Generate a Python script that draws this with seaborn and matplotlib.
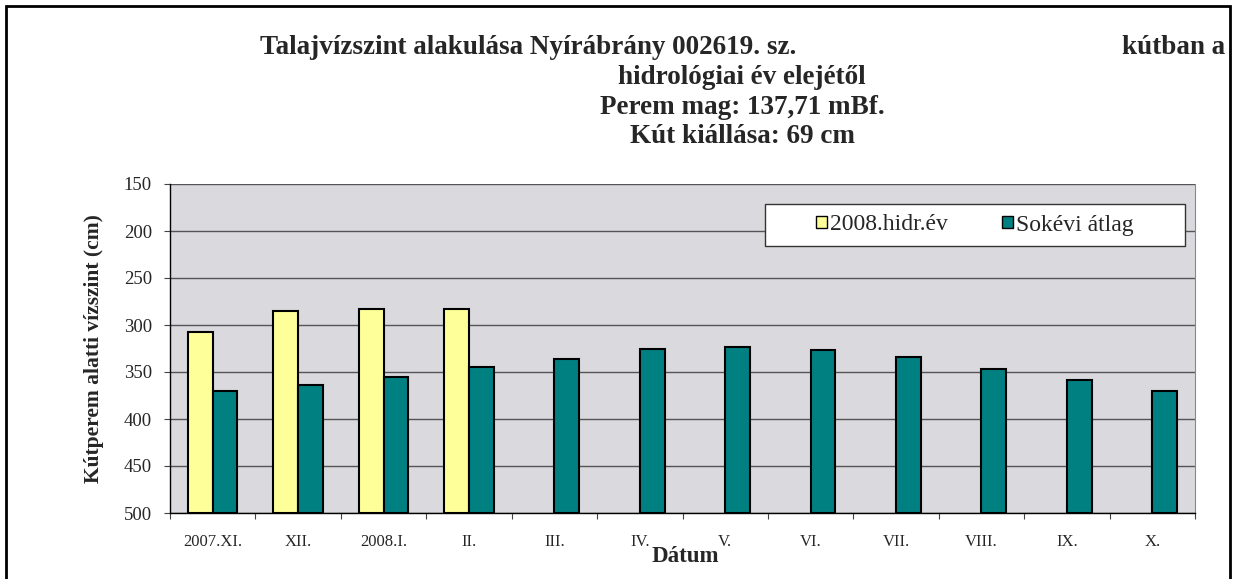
import pandas as pd
import matplotlib.pyplot as plt
import seaborn as sns
from matplotlib.patches import Patch, Rectangle

# adatok (cm a kútperem alatt)
honapok = ['2007.XI.', 'XII.', '2008.I.', 'II.', 'III.', 'IV.', 'V.', 'VI.', 'VII.', 'VIII.', 'IX.', 'X.']
hidr_2008 = [307, 285, 283, 283, None, None, None, None, None, None, None, None]
sokevi_atlag = [370, 364, 355, 345, 336, 326, 323, 327, 334, 347, 359, 370]
sorozatok = ['2008.hidr.év', 'Sokévi átlag']
szinek = ['#FFFF99', '#008080']
y_ticks = [150, 200, 250, 300, 350, 400, 450, 500]
ALJ = 500  # az oszlopok a tengely aljától (500 cm) indulnak

df = pd.DataFrame({
    'Hónap': honapok * 2,
    'Sorozat': [sorozatok[0]] * len(honapok) + [sorozatok[1]] * len(honapok),
    'Szint': hidr_2008 + sokevi_atlag,
})
df['Szint'] = pd.to_numeric(df['Szint'])
df['Magasság'] = ALJ - df['Szint']

sns.set_style('white')
plt.rcParams['font.family'] = ['Liberation Serif', 'DejaVu Serif']

W, H = 1236, 579
fig = plt.figure(figsize=(W / 100, H / 100), dpi=100)
ax = fig.add_axes([170 / W, 1 - 513 / H, (1195 - 170) / W, (513 - 184) / H])

sns.barplot(data=df, x='Hónap', y='Magasság', hue='Sorozat', order=honapok,
            hue_order=sorozatok, palette=szinek, width=0.58, saturation=1,
            edgecolor='black', linewidth=1.5, ax=ax, legend=False)

ax.set_facecolor('#dadade')
ax.set_ylim(0, ALJ - min(y_ticks))
ax.set_yticks([ALJ - v for v in y_ticks])
ax.set_yticklabels([str(v) for v in y_ticks], fontsize=13.5)
ax.set_xlim(-0.5, len(honapok) - 0.5)
ax.set_xticks(range(len(honapok)))
ax.set_xticklabels(honapok, fontsize=12)
ax.tick_params(axis='x', length=0, pad=15)
# kategória-határokon lévő osztásjelek
ax.set_xticks([i - 0.5 for i in range(len(honapok) + 1)], minor=True)
ax.tick_params(axis='x', which='minor', length=4, width=0.8, direction='out', color='#444444', bottom=True)
ax.tick_params(axis='y', length=4, width=0.8, direction='out', color='#444444', left=True, pad=9)

ax.grid(axis='y', color='#555555', linewidth=1)
ax.set_axisbelow(True)
for s in ['left', 'bottom']:
    ax.spines[s].set_color('black')
    ax.spines[s].set_linewidth(1)
ax.spines['top'].set_visible(False)
ax.spines['right'].set_color('#888888')

ax.set_ylabel('Kútperem alatti vízszint (cm)', fontsize=15.5, fontweight='bold', labelpad=14)
ax.set_xlabel('')
fig.text(685 / W, 1 - 562 / H, 'Dátum', fontsize=16.5, fontweight='bold', ha='center', va='baseline')

# jelmagyarázat: fehér keret külön, benne középen a bejegyzések
lx0, lx1, ly0, ly1 = 765, 1185, 204, 246
ax.add_patch(Rectangle(((lx0 - 170) / 1025, 1 - (ly1 - 184) / 329), (lx1 - lx0) / 1025, (ly1 - ly0) / 329,
                       transform=ax.transAxes, facecolor='white', edgecolor='#333333', linewidth=1, zorder=5))
kezelok = [Patch(facecolor=c, edgecolor='black', linewidth=1) for c in szinek]
leg = ax.legend(kezelok, sorozatok, ncol=2, loc='center',
                bbox_to_anchor=(((lx0 + lx1) / 2 - 170) / 1025, 1 - ((ly0 + ly1) / 2 - 184) / 329),
                fontsize=17, frameon=False, borderaxespad=0, borderpad=0,
                handlelength=0.45, handleheight=0.45, handletextpad=0.15, columnspacing=2.3)
leg.set_zorder(6)

# cím
cim = dict(fontsize=19.5, fontweight='bold', va='baseline')
fig.text(528 / W, 1 - 54 / H, 'Talajvízszint alakulása Nyírábrány 002619. sz.', ha='center', **cim)
fig.text(1225 / W, 1 - 54 / H, 'kútban a', ha='right', **cim)
fig.text(742 / W, 1 - 84 / H, 'hidrológiai év elejétől', ha='center', **cim)
fig.text(742 / W, 1 - 114 / H, 'Perem mag: 137,71 mBf.', ha='center', **cim)
fig.text(742 / W, 1 - 143 / H, 'Kút kiállása: 69 cm', ha='center', **cim)

# külső keret
fig.patches.append(Rectangle((6 / W, -0.05), (1230 - 6) / W, 1.05 - 6 / H,
                             transform=fig.transFigure, fill=False, edgecolor='black', linewidth=2))

fig.savefig('out.png', dpi=100)
